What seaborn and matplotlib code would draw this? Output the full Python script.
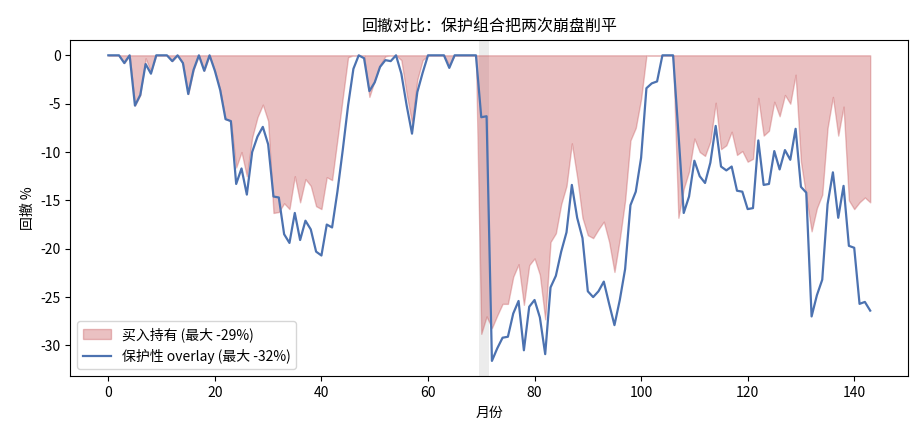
import numpy as np
import pandas as pd
import seaborn as sns
import matplotlib.pyplot as plt

# drawdown (%) per month
buy_hold = [
    0, 0, 0, -0.8, 0, -5.2, -4.1, -0.3, -1.7, 0,
    0, 0, -0.6, 0, -0.8, -4.0, -1.5, 0, -1.6, 0,
    -1.6, -3.6, -6.6, -6.8, -11.6, -10.0, -12.5, -8.5, -6.4, -5.1,
    -6.8, -16.3, -16.2, -15.3, -15.9, -12.5, -15.2, -12.8, -13.5, -15.6,
    -15.9, -12.6, -12.9, -8.7, -4.4, -0.2, 0, 0, 0, -4.3,
    -2.6, -1.0, -0.1, 0, 0, -0.5, -4.0, -7.0, -2.5, -0.5,
    0, 0, 0, 0, -1.0, 0, 0, 0, 0, 0,
    -28.8, -27.0, -28.2, -26.9, -25.7, -25.7, -22.9, -21.6, -25.8, -21.7,
    -21.0, -22.7, -27.3, -19.3, -18.4, -15.4, -13.5, -9.1, -12.6, -16.8,
    -18.6, -18.9, -18.0, -17.2, -19.3, -22.4, -19.0, -15.0, -8.8, -7.5,
    -4.5, 0, 0, 0, 0, 0, 0, -16.8, -13.8, -12.0,
    -8.6, -10.0, -10.4, -8.9, -4.9, -9.7, -9.3, -7.9, -10.3, -9.9,
    -11.0, -10.7, -4.4, -8.3, -7.8, -4.8, -6.3, -4.1, -5.0, -2.0,
    -11.0, -14.6, -18.2, -15.8, -14.4, -7.5, -4.3, -8.3, -5.3, -15.0,
    -15.9, -15.2, -14.7, -15.2,
]
overlay = [
    0, 0, 0, -0.8, 0, -5.2, -4.1, -0.9, -1.9, 0,
    0, 0, -0.6, 0, -0.8, -4.0, -1.5, 0, -1.6, 0,
    -1.6, -3.6, -6.6, -6.8, -13.3, -11.7, -14.4, -10.0, -8.4, -7.4,
    -9.2, -14.6, -14.7, -18.5, -19.4, -16.3, -19.1, -17.1, -18.0, -20.3,
    -20.7, -17.5, -17.8, -14.1, -9.8, -5.2, -1.4, 0, -0.3, -3.7,
    -2.8, -1.2, -0.5, -0.6, 0, -1.9, -5.2, -8.1, -3.8, -1.8,
    0, 0, 0, 0, -1.3, 0, 0, 0, 0, 0,
    -6.4, -6.3, -31.6, -30.3, -29.2, -29.1, -26.7, -25.4, -30.5, -26.0,
    -25.3, -27.1, -30.9, -24.0, -22.8, -20.3, -18.3, -13.4, -16.8, -18.9,
    -24.4, -25.0, -24.4, -23.4, -25.7, -27.9, -25.3, -22.1, -15.5, -14.1,
    -10.6, -3.4, -2.9, -2.7, 0, 0, 0, -8.0, -16.3, -14.6,
    -10.9, -12.5, -13.2, -11.1, -7.3, -11.5, -11.9, -11.5, -14.0, -14.1,
    -15.9, -15.8, -8.8, -13.4, -13.3, -9.9, -11.8, -9.8, -10.8, -7.6,
    -13.6, -14.2, -27.0, -24.8, -23.2, -15.4, -12.1, -16.8, -13.5, -19.7,
    -19.9, -25.7, -25.5, -26.4,
]
months = np.arange(len(overlay))
crash_band = (69.5, 71.5)

df = pd.DataFrame({"月份": months, "买入持有": buy_hold, "保护性": overlay})

plt.rcParams["font.family"] = ["Noto Sans CJK SC", "DejaVu Sans"]
plt.rcParams["axes.unicode_minus"] = False

pal = sns.color_palette("deep")
fig, ax = plt.subplots(figsize=(9.24, 4.4), dpi=100)

ax.axvspan(*crash_band, color="gray", alpha=0.15, lw=0)
ax.fill_between(df["月份"], df["买入持有"], 0, color=pal[3], alpha=0.35,
                label=f"买入持有 (最大 {min(buy_hold):.0f}%)")
sns.lineplot(data=df, x="月份", y="保护性", color=pal[0], lw=1.6, ax=ax,
             label=f"保护性 overlay (最大 {min(overlay):.0f}%)")

ax.set_title("回撤对比：保护组合把两次崩盘削平", fontsize=11.5)
ax.set_xlabel("月份")
ax.set_ylabel("回撤 %")
ax.legend(loc="lower left")

fig.subplots_adjust(left=0.076, right=0.983, top=0.909, bottom=0.145)
fig.savefig("out.png", dpi=100)
